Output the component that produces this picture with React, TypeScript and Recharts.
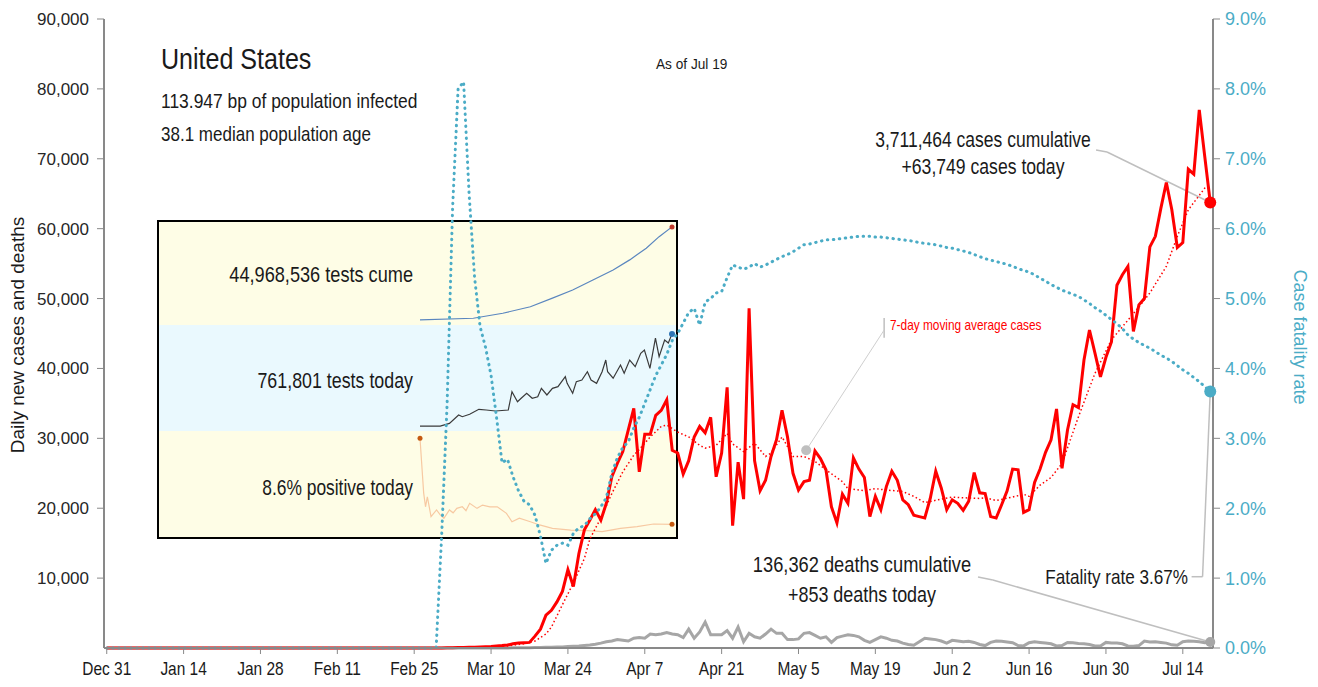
import React from "react";
import { LineChart, Line, XAxis, YAxis, ReferenceLine, ReferenceDot } from "recharts";

const SANS = '"Liberation Sans", Arial, sans-serif';

// day index 0 = Dec 31, 201 = Jul 19
const dateTicks = [0, 14, 28, 42, 56, 70, 84, 98, 112, 126, 140, 154, 168, 182, 196];
const dateLabels = ["Dec 31", "Jan 14", "Jan 28", "Feb 11", "Feb 25", "Mar 10", "Mar 24", "Apr 7", "Apr 21", "May 5", "May 19", "Jun 2", "Jun 16", "Jun 30", "Jul 14"];
const leftTicks = [10000, 20000, 30000, 40000, 50000, 60000, 70000, 80000, 90000];
const rightTicks = [0, 1, 2, 3, 4, 5, 6, 7, 8, 9];

const cases = [
  0, 0, 0, 0, 0, 0, 0, 0, 0, 0,
  0, 0, 0, 0, 0, 0, 0, 0, 0, 0,
  0, 0, 0, 0, 0, 0, 0, 0, 0, 0,
  0, 0, 0, 0, 0, 0, 0, 0, 0, 0,
  0, 0, 0, 0, 0, 0, 0, 0, 0, 0,
  0, 0, 0, 0, 0, 0, 0, 0, 0, 0,
  10, 15, 25, 35, 55, 75, 95, 120, 150, 190,
  230, 300, 350, 420, 600, 700, 750, 800, 1700, 2700,
  4700, 5400, 6600, 8100, 11200, 8800, 13500, 16900, 18300, 19800,
  18300, 20700, 24500, 26400, 28100, 31200, 34300, 25200, 30600, 30600,
  33300, 34000, 35500, 28300, 27900, 24900, 26800, 30200, 31700, 30800,
  33000, 24500, 27900, 37300, 17500, 26600, 21300, 48600, 26800, 22500,
  24000, 27400, 29800, 34000, 30200, 25000, 22600, 23800, 24000, 28200,
  27100, 25500, 20200, 17900, 22000, 20700, 27200, 25600, 24400, 18800,
  21700, 19800, 23100, 25300, 24000, 21200, 20500, 19000, 18800, 18600,
  21400, 25300, 22900, 19800, 21200, 20700, 19700, 21000, 25100, 22200,
  22100, 18800, 18600, 20500, 22500, 25600, 25500, 19400, 19800, 23700,
  25600, 28000, 29800, 34200, 25700, 31200, 34800, 34400, 41200, 45500,
  42200, 38800, 41600, 43800, 51900, 53400, 54600, 45300, 49100, 50000,
  57400, 58900, 62900, 66600, 62700, 57300, 58000, 68500, 67800, 77000,
  70300, 63749,
];

const deaths = [
  0, 0, 0, 0, 0, 0, 0, 0, 0, 0,
  0, 0, 0, 0, 0, 0, 0, 0, 0, 0,
  0, 0, 0, 0, 0, 0, 0, 0, 0, 0,
  0, 0, 0, 0, 0, 0, 0, 0, 0, 0,
  0, 0, 0, 0, 0, 0, 0, 0, 0, 0,
  0, 0, 0, 0, 0, 0, 0, 0, 0, 0,
  1, 1, 2, 3, 2, 5, 4, 6, 8, 7,
  10, 12, 10, 15, 20, 25, 30, 40, 55, 70,
  90, 110, 130, 160, 200, 250, 280, 350, 420, 550,
  700, 900, 1000, 1200, 1100, 1000, 1400, 1500, 1400, 2000,
  1900, 2000, 2200, 2000, 1900, 1500, 2700, 1400, 2300, 3700,
  1900, 1900, 1900, 2500, 1400, 3000, 900, 2100, 1600, 1400,
  2000, 2700, 2100, 2100, 1200, 1200, 1300, 2100, 2200, 1800,
  1400, 1600, 800, 1500, 1700, 1900, 1800, 1600, 1100, 800,
  1200, 1600, 1400, 1100, 1000, 700, 500, 400, 900, 1400,
  1300, 1200, 1000, 700, 1100, 1000, 900, 950, 800, 500,
  350, 800, 1000, 950, 850, 750, 350, 300, 750, 900,
  800, 700, 600, 300, 350, 800, 750, 650, 600, 500,
  300, 300, 800, 700, 700, 600, 300, 250, 350, 1000,
  850, 900, 800, 700, 450, 400, 900, 1000, 950, 900,
  750, 853,
];

// case fatality rate, %
const cfr = [
  0, 0, 0, 0, 0, 0, 0, 0, 0, 0,
  0, 0, 0, 0, 0, 0, 0, 0, 0, 0,
  0, 0, 0, 0, 0, 0, 0, 0, 0, 0,
  0, 0, 0, 0, 0, 0, 0, 0, 0, 0,
  0, 0, 0, 0, 0, 0, 0, 0, 0, 0,
  0, 0, 0, 0, 0, 0, 0, 0, 0, 0,
  0, 1.6, 3.5, 6.3, 8.0, 8.1, 6.5, 5.3, 4.6, 4.3,
  3.9, 3.3, 2.65, 2.7, 2.45, 2.25, 2.1, 2.05, 1.9, 1.6,
  1.21, 1.4, 1.47, 1.5, 1.47, 1.64, 1.72, 1.75, 1.85, 1.92,
  2.02, 2.15, 2.5, 2.72, 2.87, 2.95, 3.15, 3.3, 3.5, 3.7,
  3.9, 4.05, 4.2, 4.4, 4.5, 4.65, 4.8, 4.86, 4.62, 4.95,
  5.0, 5.08, 5.1, 5.3, 5.48, 5.45, 5.42, 5.45, 5.5, 5.45,
  5.48, 5.52, 5.56, 5.6, 5.63, 5.67, 5.72, 5.77, 5.78, 5.8,
  5.82, 5.84, 5.84, 5.85, 5.86, 5.87, 5.88, 5.89, 5.89, 5.89,
  5.88, 5.88, 5.87, 5.86, 5.85, 5.84, 5.83, 5.82, 5.8, 5.79,
  5.78, 5.77, 5.75, 5.73, 5.72, 5.7, 5.68, 5.66, 5.63, 5.6,
  5.57, 5.55, 5.53, 5.51, 5.49, 5.46, 5.43, 5.4, 5.38, 5.34,
  5.29, 5.25, 5.2, 5.16, 5.12, 5.09, 5.06, 5.03, 4.98, 4.93,
  4.87, 4.82, 4.76, 4.7, 4.64, 4.57, 4.48, 4.42, 4.37, 4.33,
  4.29, 4.24, 4.19, 4.15, 4.1, 4.04, 3.98, 3.93, 3.87, 3.81,
  3.74, 3.67,
];

// 7-day moving average, read at these days
const maDays = [0, 60, 66, 70, 73, 76, 78, 80, 81, 83, 85, 87, 88, 90, 92, 94, 96, 97, 99, 101, 102, 104, 106, 108, 109, 111, 113, 114, 116, 118, 120, 121, 123, 125, 127, 129, 131, 134, 135, 138, 140, 142, 145, 147, 149, 152, 154, 156, 159, 160, 162, 165, 167, 168, 170, 172, 174, 177, 180, 183, 186, 188, 190, 193, 195, 197, 200, 201];
const maValues = [0, 20, 60, 150, 300, 600, 1000, 2000, 3000, 6200, 9300, 12800, 15600, 18600, 22100, 25200, 27600, 28400, 30200, 31700, 31900, 30900, 30200, 29000, 28600, 29000, 30700, 29200, 28100, 29300, 27400, 27900, 30200, 27400, 27400, 26700, 25500, 23800, 22800, 22500, 22800, 22600, 22400, 21700, 20800, 21300, 21600, 21500, 21400, 21500, 21100, 21600, 22000, 21700, 23300, 24400, 26400, 33100, 39300, 44100, 46900, 48800, 50800, 54600, 58900, 62700, 65800, 66200];

// inset: testing, index t along the inset's own time scale
const cumeT = [0, 29, 45, 60, 72, 83, 94, 105, 114, 123, 130, 137];
const testsCume = [0.5, 1.3, 3.7, 6.8, 10.9, 14.8, 19.6, 24.4, 29.2, 34.8, 40.3, 44.97]; // millions
const todayT = [0, 11, 16, 21, 23, 27, 32, 36, 41, 48, 50, 53, 55, 58, 61, 64, 66, 69, 72, 75, 79, 80, 83, 85, 88, 91, 93, 96, 99, 101, 102, 105, 109, 111, 114, 117, 120, 122, 125, 128, 130, 133, 135, 137];
const testsToday = [39, 39, 60, 126, 112, 131, 170, 165, 157, 165, 309, 230, 257, 296, 257, 269, 335, 283, 335, 348, 426, 374, 296, 387, 400, 465, 400, 374, 465, 557, 465, 414, 518, 453, 557, 505, 610, 636, 492, 728, 583, 714, 690, 762]; // thousands
const posT = [0, 2, 3, 4, 6, 9, 11, 13, 16, 18, 20, 23, 25, 27, 31, 34, 38, 42, 47, 50, 54, 60, 65, 72, 82, 91, 99, 109, 118, 127, 137];
const positive = [62.6, 28.2, 19.6, 25.9, 13.4, 17.6, 14.5, 12.4, 17.6, 15.8, 18.6, 19.6, 17.2, 21.8, 18.6, 20.7, 19.6, 19.6, 15.5, 10.2, 12.4, 10.2, 8.2, 6.1, 5.0, 4.6, 4.0, 6.1, 7.1, 8.8, 8.6]; // %

const rows = cases.map((c, i) => {
  const k = maDays.indexOf(i);
  return { day: i, cases: c, deaths: deaths[i], cfr: cfr[i], ma: k >= 0 ? maValues[k] : null };
});
const last = cases.length - 1;

const cumeRows = cumeT.map((t, i) => ({ t, v: testsCume[i] }));
const todayRows = todayT.map((t, i) => ({ t, v: testsToday[i] }));
const posRows = posT.map((t, i) => ({ t, v: positive[i] }));

const RED = "#ff0000";
const TEAL = "#4bacc6";
const GREY = "#a6a6a6";
const AXIS = "#898989";

// condensed look: Liberation Sans squeezed horizontally
function Txt({ x, y, anchor = "start", size = 21, sx = 0.82, color = "#1a1a1a", children }: any) {
  const tx = anchor === "middle" ? "-50%" : anchor === "end" ? "-100%" : "0";
  const origin = anchor === "middle" ? "center" : anchor === "end" ? "right" : "left";
  return (
    <div
      style={{
        position: "absolute",
        left: x,
        top: y,
        transform: `translate(${tx}, -50%) scaleX(${sx})`,
        transformOrigin: `${origin} center`,
        fontSize: size,
        color,
        fontFamily: SANS,
        whiteSpace: "nowrap",
        lineHeight: 1,
      }}
    >
      {children}
    </div>
  );
}

const DateTick = (p: any) => (
  <text
    x={0}
    y={0}
    transform={`translate(${p.x},${p.y}) scale(0.86,1)`}
    textAnchor="middle"
    dy="0.71em"
    fontSize={18}
    fill="#1a1a1a"
    fontFamily={SANS}
  >
    {dateLabels[dateTicks.indexOf(p.payload.value)]}
  </text>
);

const endDot = (color: string, r: number, idx: number[]) => (p: any) =>
  idx.includes(p.index) ? (
    <circle key={`d${p.index}`} cx={p.cx} cy={p.cy} r={r} fill={color} />
  ) : (
    <g key={`n${p.index}`} />
  );

function Mini({ data, top, height, domain, color, width, dots }: any) {
  return (
    <div style={{ position: "absolute", left: 257, top }}>
      <LineChart width={260} height={height} data={data} margin={{ top: 4, right: 4, bottom: 4, left: 4 }}>
        <XAxis dataKey="t" type="number" domain={[0, 137]} hide />
        <YAxis domain={domain} hide allowDataOverflow />
        <Line
          type="linear"
          dataKey="v"
          stroke={color}
          strokeWidth={width}
          dot={dots}
          activeDot={false}
          isAnimationActive={false}
        />
      </LineChart>
    </div>
  );
}

export default function App() {
  return (
    <div style={{ position: "absolute", left: 0, top: 0, width: 1318, height: 687, background: "#fff", overflow: "hidden" }}>
      {/* testing inset */}
      <div
        style={{
          position: "absolute",
          left: 157,
          top: 220,
          width: 521,
          height: 319,
          border: "2px solid #000",
          boxSizing: "border-box",
        }}
      >
        <div style={{ position: "absolute", left: 0, top: 0, width: 517, height: 103, background: "#fefde6" }} />
        <div style={{ position: "absolute", left: 0, top: 103, width: 517, height: 106, background: "#eaf9fe" }} />
        <div style={{ position: "absolute", left: 0, top: 209, width: 517, height: 106, background: "#fefde6" }} />
        <Txt x={254} y={53} anchor="end" size={22} sx={0.825}>44,968,536 tests cume</Txt>
        <Txt x={254} y={159} anchor="end" size={22} sx={0.81}>761,801 tests today</Txt>
        <Txt x={254} y={266} anchor="end" size={22} sx={0.79}>8.6% positive today</Txt>
        <Mini data={cumeRows} top={-4} height={112} domain={[-2.4, 47.3]} color="#5a86bf" width={1.2}
          dots={endDot("#c0392b", 2.5, [cumeRows.length - 1])} />
        <Mini data={todayRows} top={100} height={113} domain={[0, 824]} color="#3a3a3a" width={1.2}
          dots={endDot("#2f75b5", 3, [todayRows.length - 1])} />
        <Mini data={posRows} top={205} height={114} domain={[0.63, 67.2]} color="#f7c9a2" width={1.2}
          dots={endDot("#c55a11", 2.5, [0, posRows.length - 1])} />
      </div>

      <div style={{ position: "absolute", left: 0, top: 0 }}>
        <LineChart width={1318} height={687} data={rows} margin={{ top: 19, right: 0, bottom: 0, left: 0 }}>
          <XAxis
            dataKey="day"
            type="number"
            domain={[-0.5, 201.5]}
            ticks={dateTicks}
            interval={0}
            height={39}
            axisLine={{ stroke: AXIS, strokeWidth: 2 }}
            tickLine={{ stroke: AXIS }}
            tickSize={6}
            tickMargin={8}
            tick={DateTick}
          />
          <YAxis
            yAxisId="left"
            domain={[0, 90000]}
            ticks={leftTicks}
            interval={0}
            width={104}
            tickFormatter={(v: number) => v.toLocaleString("en-US")}
            axisLine={{ stroke: AXIS, strokeWidth: 2 }}
            tickLine={{ stroke: AXIS }}
            tickSize={7}
            tickMargin={8}
            tick={{ fontSize: 17, fill: "#262626", fontFamily: SANS }}
          />
          <YAxis
            yAxisId="right"
            orientation="right"
            domain={[0, 9]}
            ticks={rightTicks}
            interval={0}
            width={105}
            tickFormatter={(v: number) => `${v.toFixed(1)}%`}
            axisLine={{ stroke: AXIS, strokeWidth: 2 }}
            tickLine={{ stroke: AXIS }}
            tickSize={7}
            tickMargin={5}
            tick={{ fontSize: 18, fill: TEAL, fontFamily: SANS }}
          />

          <ReferenceLine yAxisId="left" segment={[{ x: 180.2, y: 71250 }, { x: 182.2, y: 70970 }]} stroke="#bfbfbf" strokeWidth={1.5} />
          <ReferenceLine yAxisId="left" segment={[{ x: 182.2, y: 70970 }, { x: last, y: cases[last] }]} stroke="#bfbfbf" strokeWidth={1.5} />
          <ReferenceLine yAxisId="left" segment={[{ x: 158.7, y: 10160 }, { x: 161.4, y: 9730 }]} stroke="#bfbfbf" strokeWidth={1.5} />
          <ReferenceLine yAxisId="left" segment={[{ x: 161.4, y: 9730 }, { x: last, y: deaths[last] }]} stroke="#bfbfbf" strokeWidth={1.5} />
          <ReferenceLine yAxisId="right" segment={[{ x: 197.6, y: 1.02 }, { x: 199.6, y: 1.02 }]} stroke="#bfbfbf" strokeWidth={1.5} />
          <ReferenceLine yAxisId="right" segment={[{ x: 199.6, y: 1.02 }, { x: last, y: cfr[last] }]} stroke="#bfbfbf" strokeWidth={1.5} />
          <ReferenceLine yAxisId="left" segment={[{ x: 141.6, y: 47200 }, { x: 141.6, y: 44400 }]} stroke="#bfbfbf" strokeWidth={1.5} />
          <ReferenceLine yAxisId="left" segment={[{ x: 141.6, y: 45500 }, { x: 127.4, y: 28300 }]} stroke="#cfcfcf" strokeWidth={1} />
          <ReferenceDot yAxisId="left" x={127.4} y={28300} r={5} fill="#bfbfbf" stroke="none" />

          <Line yAxisId="left" type="linear" dataKey="deaths" stroke={GREY} strokeWidth={3} activeDot={false}
            dot={endDot(GREY, 5, [last])} isAnimationActive={false} />
          <Line yAxisId="left" type="linear" dataKey="cases" stroke={RED} strokeWidth={3} activeDot={false}
            dot={endDot(RED, 6, [last])} isAnimationActive={false} />
          <Line yAxisId="left" type="linear" dataKey="ma" stroke={RED} strokeWidth={1.5} strokeDasharray="1.5 2.5"
            connectNulls dot={false} activeDot={false} isAnimationActive={false} />
          <Line yAxisId="right" type="linear" dataKey="cfr" stroke={TEAL} strokeWidth={3} strokeDasharray="0.5 5.5"
            strokeLinecap="round" activeDot={false} dot={endDot(TEAL, 6, [last])} isAnimationActive={false} />
        </LineChart>
      </div>

      {/* axis titles */}
      <div style={{ position: "absolute", left: 18, top: 335, transform: "translate(-50%, -50%) rotate(-90deg)", fontFamily: SANS, fontSize: 19, color: "#1a1a1a", whiteSpace: "nowrap" }}>
        Daily new cases and deaths
      </div>
      <div style={{ position: "absolute", left: 1299, top: 337, transform: "translate(-50%, -50%) rotate(90deg)", fontFamily: SANS, fontSize: 18, color: TEAL, whiteSpace: "nowrap" }}>
        Case fatality rate
      </div>

      {/* annotations */}
      <Txt x={161} y={59} size={30} sx={0.835}>United States</Txt>
      <Txt x={161} y={100} size={21} sx={0.83}>113.947 bp of population infected</Txt>
      <Txt x={161} y={133} size={21} sx={0.81}>38.1 median population age</Txt>
      <Txt x={656} y={63} size={15} sx={0.91}>As of Jul 19</Txt>
      <Txt x={983} y={140} anchor="middle" size={22} sx={0.795}>3,711,464 cases cumulative</Txt>
      <Txt x={983} y={167} anchor="middle" size={22} sx={0.8}>+63,749 cases today</Txt>
      <Txt x={890} y={324} size={15} sx={0.79} color={RED}>7-day moving average cases</Txt>
      <Txt x={862} y={565} anchor="middle" size={22} sx={0.83}>136,362 deaths cumulative</Txt>
      <Txt x={862} y={595} anchor="middle" size={22} sx={0.815}>+853 deaths today</Txt>
      <Txt x={1188} y={576} anchor="end" size={21} sx={0.815}>Fatality rate 3.67%</Txt>
    </div>
  );
}
